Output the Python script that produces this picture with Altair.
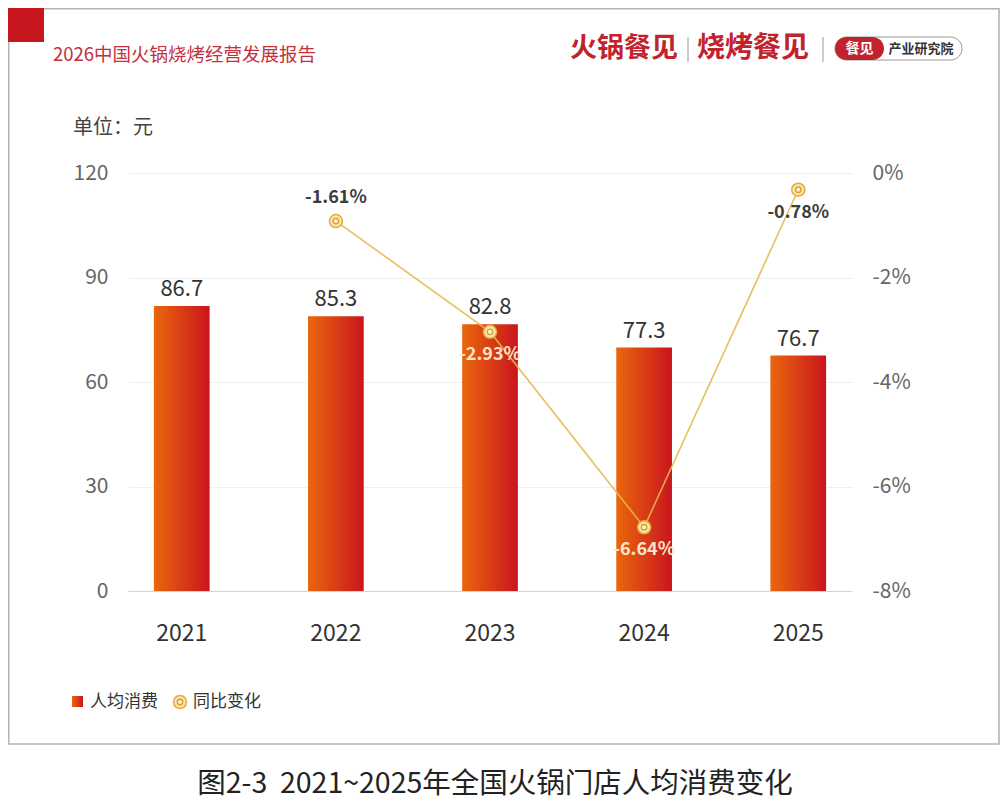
import altair as alt
import pandas as pd

# data
years = ["2021", "2022", "2023", "2024", "2025"]
spend = [81.8, 78.9, 76.6, 69.9, 67.6]          # bar heights as drawn
spend_labels = ["86.7", "85.3", "82.8", "77.3", "76.7"]
yoy = [None, -0.92, -3.04, -6.78, -0.32]        # point positions as drawn (%)
yoy_labels = ["", "-1.61%", "-2.93%", "-6.64%", "-0.78%"]

FONT = "Noto Sans CJK SC"
RED = "#C1232C"

# plot area origin on the page
OX, OY = 128, 173


def px(x):
    return x - OX


def py(y):
    return y - OY


df = pd.DataFrame({"year": years, "spend": spend, "spend_label": spend_labels,
                   "yoy": yoy, "yoy_label": yoy_labels})
one = pd.DataFrame({"k": [0]})

bar_fill = alt.Gradient(
    gradient="linear",
    stops=[alt.GradientStop(color="#EA670C", offset=0),
           alt.GradientStop(color="#C9151E", offset=1)],
    x1=0, x2=1, y1=0, y2=0,
)

x_enc = alt.X(
    "year:N", title=None, sort=years,
    scale=alt.Scale(paddingInner=0.6385, paddingOuter=0.168),
    axis=alt.Axis(labelAngle=0, labelFontSize=23, labelColor="#333333",
                  labelPadding=31, ticks=False, domainColor="#d4d4d4",
                  domainWidth=1.2, grid=False),
)

# left side: bars
bars = alt.Chart(df).mark_bar(color=bar_fill).encode(
    x=x_enc,
    y=alt.Y("spend:Q", title=None, scale=alt.Scale(domain=[0, 120]),
            axis=alt.Axis(values=[0, 30, 60, 90, 120], labelFontSize=21,
                          labelColor="#666666", labelPadding=20, ticks=False,
                          domain=False, gridColor="#efefef")),
)
bar_text = alt.Chart(df).mark_text(dy=-17, fontSize=22, color="#333333",
                                   baseline="middle").encode(
    x=x_enc, y="spend:Q", text="spend_label:N")
left = alt.layer(bars, bar_text)

# right side: yoy line
y_right = alt.Y("yoy:Q", title=None, scale=alt.Scale(domain=[-8, 0]),
                axis=alt.Axis(orient="right", values=[-8, -6, -4, -2, 0],
                              labelExpr="datum.value + '%'", grid=False,
                              domain=False, ticks=False, labelPadding=20,
                              labelFontSize=21, labelColor="#666666"))
base_r = alt.Chart(df).transform_filter("isValid(datum.yoy)")
line = base_r.mark_line(color="#E4B94F", strokeWidth=1.6, opacity=0.9).encode(
    x=x_enc, y=y_right)
ring = base_r.mark_circle(size=170, fill="#FBE6A8", stroke="#E2AC44",
                          strokeWidth=1.5, opacity=1).encode(x=x_enc, y="yoy:Q")
dot = base_r.mark_circle(size=30, fill="#FCEFD4", stroke="#D89E30",
                         strokeWidth=1.3, opacity=1).encode(x=x_enc, y="yoy:Q")
lab_up = base_r.transform_filter("datum.year == '2022'").mark_text(
    dy=-23, fontSize=18, fontWeight="bold", baseline="middle").encode(
    x=x_enc, y="yoy:Q", text="yoy_label:N", color=alt.value("#3d3d3d"))
lab_dn = base_r.transform_filter("datum.year != '2022'").mark_text(
    dy=23, fontSize=18, fontWeight="bold", baseline="middle").encode(
    x=x_enc, y="yoy:Q", text="yoy_label:N",
    color=alt.condition("datum.year == '2025'", alt.value("#3d3d3d"),
                        alt.value("#FCE4C8")))
right = alt.layer(line, ring, dot, lab_up, lab_dn)

chart_core = alt.layer(left, right).resolve_scale(y="independent")


# decorations: frame, header, unit, legend, caption
def txt(s, x, y, size, color, weight="normal", align="left"):
    return alt.Chart(one).mark_text(text=s, fontSize=size, color=color,
                                    fontWeight=weight, align=align,
                                    baseline="middle").encode(
        x=alt.value(px(x)), y=alt.value(py(y)))


def box(x1, x2, y1, y2, **kw):
    return alt.Chart(one).mark_rect(**kw).encode(
        x=alt.value(px(x1)), x2=alt.value(px(x2)),
        y=alt.value(py(y1)), y2=alt.value(py(y2)))


frame = box(8.7, 999, 8.7, 744, filled=False, stroke="#b4b4b4", strokeWidth=1.6)
corner = box(8, 44, 8, 42, color="#C8161E")
sep1 = alt.Chart(one).mark_rule(color="#9a9a9a", strokeWidth=1).encode(
    x=alt.value(px(688)), y=alt.value(py(37)), y2=alt.value(py(62)))
sep2 = alt.Chart(one).mark_rule(color="#9a9a9a", strokeWidth=1).encode(
    x=alt.value(px(823)), y=alt.value(py(37)), y2=alt.value(py(62)))
pill = box(835, 962, 37, 60, fill="white", stroke="#9a9a9a", strokeWidth=1,
           cornerRadius=11.5)
pill_red = box(835, 884, 37, 60, color=RED, cornerRadius=11.5)

leg_sq = box(72, 83, 696, 707, color=bar_fill)
leg_ring = alt.Chart(one).mark_circle(size=170, fill="#FBE6A8", stroke="#E2AC44",
                                      strokeWidth=1.5, opacity=1).encode(
    x=alt.value(px(180)), y=alt.value(py(702)))
leg_dot = alt.Chart(one).mark_circle(size=30, fill="#FCEFD4", stroke="#D89E30",
                                     strokeWidth=1.3, opacity=1).encode(
    x=alt.value(px(180)), y=alt.value(py(702)))

decor = [
    frame, corner,
    txt("2026中国火锅烧烤经营发展报告", 53, 55, 18.5, "#C4303C"),
    txt("火锅餐见", 570, 49, 27, RED, "bold"),
    txt("烧烤餐见", 697, 49, 28, RED, "bold"),
    sep1, sep2, pill, pill_red,
    txt("餐见", 859.5, 48.5, 14, "white", "bold", "center"),
    txt("产业研究院", 921, 48.5, 13, "#333333", "bold", "center"),
    txt("单位：元", 73, 128, 20, "#444444"),
    leg_sq, txt("人均消费", 90, 702, 17, "#333333"),
    leg_ring, leg_dot, txt("同比变化", 193, 702, 17, "#333333"),
    txt("图2-3\u00a0\u00a02021~2025年全国火锅门店人均消费变化", 495, 784, 28.5,
        "#222222", align="center"),
]

chart = alt.layer(*decor, chart_core).properties(
    width=724, height=418,
    autosize=alt.AutoSizeParams(type="none"),
    padding={"left": 120, "top": 165, "right": 148, "bottom": 210},
).configure(font=FONT).configure_view(strokeWidth=0)

chart.save("out.html", embed_options={"renderer": "svg", "actions": False})
